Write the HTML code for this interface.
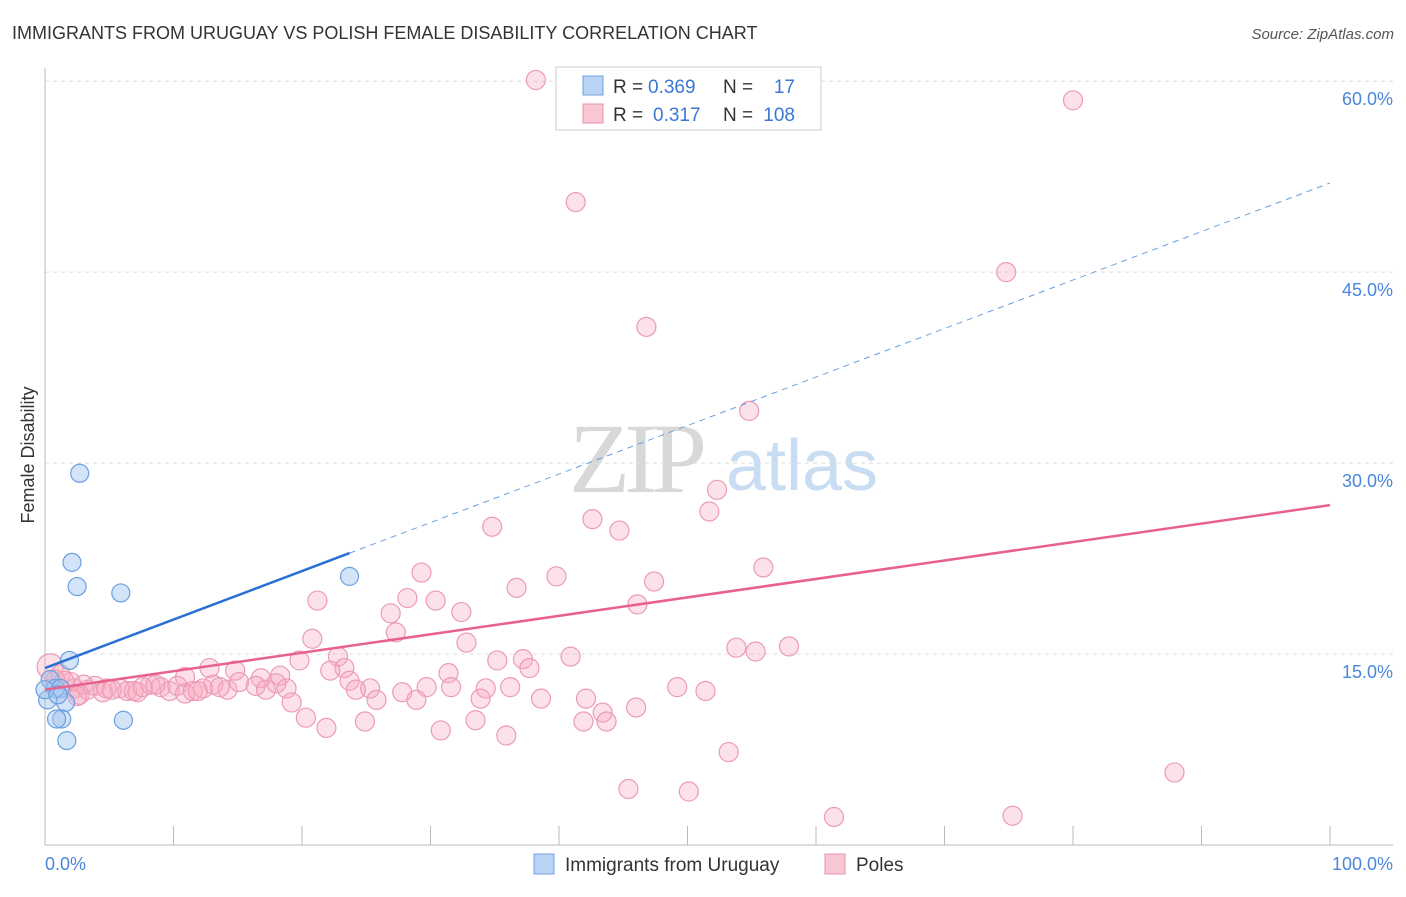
<!DOCTYPE html>
<html><head><meta charset="utf-8"><style>
body{margin:0;background:#fff;font-family:"Liberation Sans",sans-serif;}
</style></head><body>
<svg id="chart" width="1406" height="892" font-family="Liberation Sans, sans-serif">
<text x="12" y="39" font-size="18" fill="#333">IMMIGRANTS FROM URUGUAY VS POLISH FEMALE DISABILITY CORRELATION CHART</text>
<text x="1394" y="39" font-size="15" fill="#555" font-style="italic" text-anchor="end">Source: ZipAtlas.com</text>
<g><text x="635" y="492" font-size="100" fill="#d8d8d8" style="font-family:'Liberation Serif',serif" text-anchor="middle" letter-spacing="-6">ZIP</text><text x="802" y="490" font-size="72" fill="#c8dcf2" text-anchor="middle">atlas</text></g>
<g id="grid"></g><g id="axes"></g><g id="marks"></g>
<text transform="translate(34,455) rotate(-90)" font-size="18" fill="#333" text-anchor="middle">Female Disability</text>
<g>
<rect x="556" y="67" width="265" height="63" fill="#fff" stroke="#ccc"/>
<rect x="583" y="76" width="20" height="19" fill="#b9d3f5" stroke="#6a9fe0"/>
<rect x="583" y="104" width="20" height="19" fill="#f9c6d4" stroke="#e890aa"/>
<text x="613" y="93" font-size="19" fill="#333">R =</text>
<text x="648" y="93" font-size="19" fill="#3a78d4">0.369</text>
<text x="723" y="93" font-size="19" fill="#333">N =</text>
<text x="795" y="93" font-size="19" fill="#3a78d4" text-anchor="end">17</text>
<text x="613" y="121" font-size="19" fill="#333">R =</text>
<text x="653" y="121" font-size="19" fill="#3a78d4">0.317</text>
<text x="723" y="121" font-size="19" fill="#333">N =</text>
<text x="795" y="121" font-size="19" fill="#3a78d4" text-anchor="end">108</text>
</g>
<g>
<rect x="534" y="854" width="20" height="20" fill="#b9d3f5" stroke="#6a9fe0"/>
<text x="565" y="871" font-size="19" fill="#333">Immigrants from Uruguay</text>
<rect x="825" y="854" width="20" height="20" fill="#f9c6d4" stroke="#e890aa"/>
<text x="856" y="871" font-size="19" fill="#333">Poles</text>
</g>
</svg>
<script>
const yTicks=[15,30,45,60];
const yTickLabels=["15.0%","30.0%","45.0%","60.0%"];
const xTickLabels=["0.0%","100.0%"];
const blueX=[2.7,2.1,2.5,5.9,23.7,1.9,0.4,0.8,1.2,0.2,1.6,1.3,0.9,6.1,1.7,0.0,1.0];
const blueY=[29.2,22.2,20.3,19.8,21.1,14.5,13.0,12.3,12.3,11.4,11.2,9.9,9.9,9.8,8.2,12.2,11.8];
const pinkX=[38.2,80.0,41.3,74.8,46.8,54.8,52.3,51.7,42.6,44.7,34.8,55.9,29.3,39.8,47.4,36.7,28.2,30.4,21.2,46.1,32.4,26.9,27.3,32.8,20.8,57.9,53.8,55.3,40.9,22.8,19.8,35.2,37.2,37.7,23.3,22.2,12.8,14.8,31.4,10.9,23.7,18.3,16.8,34.3,36.2,49.2,51.4,29.7,31.6,25.3,24.2,18.8,27.8,33.9,38.6,42.1,25.8,28.9,19.2,43.4,46.0,20.3,24.9,33.5,41.9,43.7,21.9,30.8,35.9,53.2,87.9,45.4,50.1,61.4,75.3,
0.4,1.2,2.0,2.3,2.7,3.3,3.9,4.5,5.8,6.4,7.2,8.2,9.0,9.7,10.3,10.9,11.5,12.3,13.1,14.2,15.1,16.4,17.2,18.0,1.5,3.0,4.8,6.9,8.6,11.9,13.6,0.8,2.5,5.2,7.6];
const pinkY=[60.1,58.5,50.5,45.0,40.7,34.1,27.9,26.2,25.6,24.7,25.0,21.8,21.4,21.1,20.7,20.2,19.4,19.2,19.2,18.9,18.3,18.2,16.7,15.9,16.2,15.6,15.5,15.2,14.8,14.8,14.5,14.5,14.6,13.9,13.9,13.7,13.9,13.7,13.5,13.2,12.9,13.3,13.1,12.3,12.4,12.4,12.1,12.4,12.4,12.3,12.2,12.3,12.0,11.5,11.5,11.5,11.4,11.4,11.2,10.4,10.8,10.0,9.7,9.8,9.7,9.7,9.2,9.0,8.6,7.3,5.7,4.4,4.2,2.2,2.3,
14.0,13.4,12.8,12.3,11.8,12.2,12.5,12.0,12.3,12.1,12.0,12.6,12.4,12.1,12.5,11.9,12.1,12.3,12.6,12.2,12.8,12.5,12.2,12.7,12.9,12.6,12.3,12.1,12.6,12.1,12.4,13.0,11.7,12.2,12.4];
const blueLine=[13.9,52.0];
const pinkLine=[12.2,26.7];
const NS="http://www.w3.org/2000/svg";
const X0=45,X1=1330,Y0=845,PXY=12.73;
function sx(v){return X0+(X1-X0)*v/100;}
function sy(v){return Y0-v*PXY;}
function mk(tag,attrs,parent){const e=document.createElementNS(NS,tag);for(const k in attrs)e.setAttribute(k,attrs[k]);document.getElementById(parent).appendChild(e);return e;}
yTicks.forEach((t,i)=>{
 const g=mk('line',{x1:45,x2:1393,y1:sy(t),y2:sy(t),stroke:'#ddd','stroke-dasharray':'4,4'},'grid');
 
 
 const l=mk('text',{x:1393,y:sy(t)+24,'font-size':18,fill:'#4a86dc','text-anchor':'end'},'axes');
 l.textContent=yTickLabels[i];
 
 
});
const ya=mk('line',{x1:45,x2:45,y1:68,y2:845,stroke:'#bbb'},'axes');


const xa=mk('line',{x1:45,x2:1393,y1:845,y2:845,stroke:'#bbb'},'axes');


for(let i=0;i<=10;i++){const t=mk('line',{x1:sx(i*10),x2:sx(i*10),y1:826,y2:845,stroke:'#bbb'},'axes');
 
 }
[[0,'start',45],[1,'end',1393]].forEach(([i,a,x])=>{const l=mk('text',{x:x,y:870,'font-size':18,fill:'#4a86dc','text-anchor':a},'axes');l.textContent=xTickLabels[i];
 
 });
pinkX.forEach((x,i)=>{const c=mk('circle',{cx:sx(x),cy:sy(pinkY[i]),r:i==75?13:9.5,fill:'rgba(246,170,192,0.35)',stroke:'#ec9bb4','stroke-width':1.2},'marks');
 
 });
blueX.forEach((x,i)=>{const c=mk('circle',{cx:sx(x),cy:sy(blueY[i]),r:9,fill:'rgba(160,195,240,0.45)',stroke:'#6a9fe0','stroke-width':1.2},'marks');
 
 });
const bxEnd=Math.max(...blueX);
const bl=mk('line',{x1:sx(0),y1:sy(blueLine[0]),x2:sx(bxEnd),y2:sy(blueLine[0]+(blueLine[1]-blueLine[0])*bxEnd/100),stroke:'#2a6fd6','stroke-width':2.5},'marks');


const bd=mk('line',{x1:sx(bxEnd),y1:sy(blueLine[0]+(blueLine[1]-blueLine[0])*bxEnd/100),x2:sx(100),y2:sy(blueLine[1]),stroke:'#6a9fe0','stroke-width':1,'stroke-dasharray':'6,5'},'marks');


const pl=mk('line',{x1:sx(0),y1:sy(pinkLine[0]),x2:sx(100),y2:sy(pinkLine[1]),stroke:'#e8608c','stroke-width':2.5},'marks');


</script>
</body></html>
